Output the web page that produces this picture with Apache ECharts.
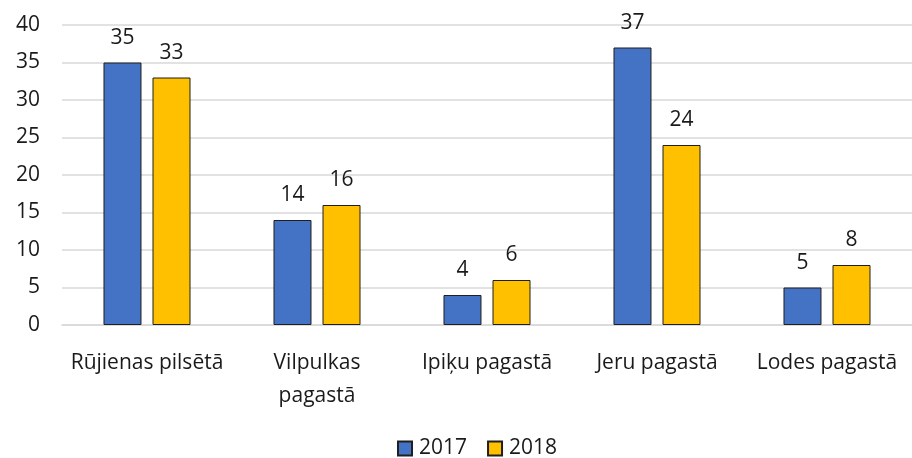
<!DOCTYPE html>
<html>
<head>
<meta charset="utf-8">
<script src="https://cdn.jsdelivr.net/npm/echarts@6/dist/echarts.min.js"></script>
<style>
  html, body { margin: 0; padding: 0; background: #fff; }
  #chart { width: 912px; height: 458px; }
</style>
</head>
<body>
<div id="chart"></div>
<script>
const categories = ['Rūjienas pilsētā', 'Vilpulkas\npagastā', 'Ipiķu pagastā', 'Jeru pagastā', 'Lodes pagastā'];
const values2017 = [35, 14, 4, 37, 5];
const values2018 = [33, 16, 6, 24, 8];
const yTicks = { min: 0, max: 40, interval: 5 };

const font = '"Open Sans", "Noto Sans", sans-serif';
const textColor = '#1a1a1a';

const chart = echarts.init(document.getElementById('chart'));
chart.setOption({
  animation: false,
  textStyle: { fontFamily: font },
  grid: { left: 62, right: -15, top: 25, bottom: 133 },
  legend: {
    top: 433,
    left: 392,
    itemWidth: 14,
    itemHeight: 14,
    itemGap: 20,
    icon: 'rect',
    textStyle: { fontFamily: font, fontSize: 21, color: textColor, padding: [0, 0, 0, 2] },
    data: ['2017', '2018']
  },
  xAxis: {
    type: 'category',
    data: categories,
    axisLine: { lineStyle: { color: '#d9d9d9', width: 1.5 } },
    axisTick: { show: false },
    axisLabel: { fontFamily: font, fontSize: 21, color: textColor, margin: 22, lineHeight: 33, interval: 0 }
  },
  yAxis: {
    type: 'value',
    min: yTicks.min,
    max: yTicks.max,
    interval: yTicks.interval,
    axisLine: { show: false },
    axisTick: { show: false },
    splitLine: { lineStyle: { color: '#d9d9d9', width: 1.5 } },
    axisLabel: { fontFamily: font, fontSize: 21, color: textColor, margin: 22 }
  },
  series: [
    {
      name: '2017',
      type: 'bar',
      data: values2017,
      barWidth: 38,
      barGap: '29%',
      itemStyle: { color: '#4472C4', borderColor: '#1f1f1f', borderWidth: 1 },
      label: { show: true, position: 'top', distance: 14, fontFamily: font, fontSize: 21, color: textColor }
    },
    {
      name: '2018',
      type: 'bar',
      data: values2018,
      barWidth: 38,
      itemStyle: { color: '#FFC000', borderColor: '#1f1f1f', borderWidth: 1 },
      label: { show: true, position: 'top', distance: 14, fontFamily: font, fontSize: 21, color: textColor }
    }
  ]
});
</script>
</body>
</html>
